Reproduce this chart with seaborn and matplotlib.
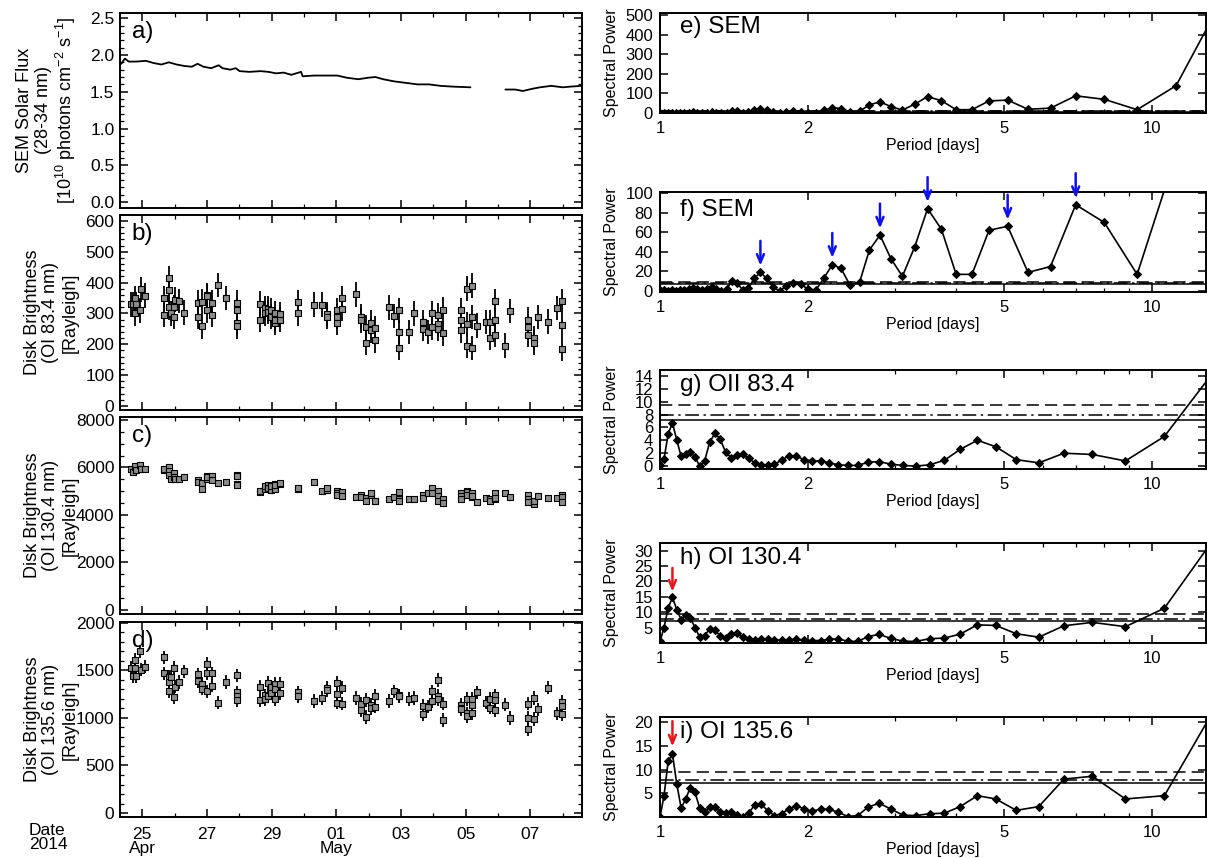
import numpy as np
import pandas as pd
import matplotlib
matplotlib.use("Agg")
import matplotlib.pyplot as plt
import seaborn as sns
from matplotlib.ticker import FixedLocator, MultipleLocator, NullFormatter, FixedFormatter

# ---------------- data ----------------
# Panel a: SEM solar flux, days since 2014-04-25 00:00
SEM_DAY_A = [-0.69, -0.65, -0.54, -0.42, -0.18, 0.11, 0.35, 0.59, 0.82, 1.06,
             1.30, 1.53, 1.71, 1.89, 2.13, 2.36, 2.48, 2.72, 2.89, 3.01,
             3.31, 3.66, 3.90, 4.14, 4.37, 4.61, 4.91, 4.96, 5.32, 5.67,
             6.03, 6.33, 6.68, 6.98, 7.21, 7.45, 7.80, 8.16, 8.51, 8.87,
             9.22, 9.58, 10.15]
SEM_FLUX_A = [1.88, 1.88, 1.95, 1.91, 1.91, 1.92, 1.89, 1.87, 1.90, 1.87,
              1.85, 1.84, 1.88, 1.84, 1.82, 1.86, 1.82, 1.80, 1.82, 1.78,
              1.77, 1.78, 1.77, 1.75, 1.76, 1.73, 1.77, 1.71, 1.72, 1.72,
              1.72, 1.69, 1.67, 1.69, 1.70, 1.67, 1.64, 1.62, 1.60, 1.60,
              1.58, 1.57, 1.56]
SEM_DAY_B = [11.23, 11.53, 11.77, 12.06, 12.30, 12.65, 13.01, 13.25, 13.60]
SEM_FLUX_B = [1.53, 1.53, 1.51, 1.54, 1.56, 1.58, 1.56, 1.57, 1.58]

# Panels b-d: disk brightness observations
OBS_DAY = [-0.36, -0.30, -0.24, -0.22, -0.18, -0.06, -0.04, 0.09,
           0.68, 0.68, 0.82, 0.82, 0.82, 0.88, 0.97, 0.97, 1.00, 1.12, 1.30,
           1.71, 1.71, 1.85, 1.85, 2.01, 2.01, 2.01, 2.16, 2.16, 2.34, 2.60, 2.92, 2.92, 2.92, 2.92,
           3.64, 3.64, 3.78, 3.78, 3.90, 3.90, 3.99, 3.99, 4.11, 4.11, 4.11, 4.26, 4.26,
           4.82, 4.82, 5.30, 5.56, 5.71, 5.71, 6.01, 6.01, 6.01, 6.18, 6.18, 6.62, 6.76, 6.76,
           6.92, 6.92, 7.06, 7.06, 7.21, 7.21,
           7.63, 7.80, 7.95, 7.95, 7.95, 8.25, 8.41, 8.68, 8.68, 8.83, 8.96, 8.96, 9.14, 9.14, 9.14,
           9.31, 9.31,
           9.87, 9.87, 9.87, 10.03, 10.03, 10.03, 10.19, 10.19, 10.19, 10.35, 10.62, 10.76, 10.76,
           10.92, 10.92, 10.92, 11.21, 11.38, 11.94, 11.94, 11.94, 12.10, 12.10, 12.24, 12.54, 12.83,
           12.99, 12.99, 12.99]
OI834 = [330, 330, 350, 300, 330, 310, 378, 357,
         350, 295, 415, 375, 320, 300, 320, 290, 345, 340, 302,
         335, 290, 338, 258, 360, 355, 310, 335, 295, 392, 350, 335, 310, 270, 258,
         280, 332, 318, 300, 315, 305, 310, 290, 270, 280, 300, 280, 297,
         337, 300, 328, 328, 298, 290, 310, 290, 270, 350, 315, 362, 290, 278, 255, 205, 270, 245, 252, 213,
         320, 292, 310, 240, 188, 240, 300, 272, 250, 240, 300, 255, 295, 265, 250, 312, 235,
         310, 280, 245, 380, 265, 195, 390, 288, 188, 260, 272, 272, 220, 340, 278, 230, 195, 308,
         280, 255, 230, 220, 205, 288, 273, 318, 340, 262, 185]
OI1304 = [5950, 5800, 6000, 6050, 5900, 6100, 5950, 5950,
          5900, 5950, 6000, 5850, 5700, 5500, 5750, 5600, 5500, 5500, 5600,
          5450, 5400, 5350, 5100, 5500, 5650, 5600, 5650, 5450, 5350, 5400, 5700, 5650, 5300, 5250,
          4950, 5000, 5100, 5200, 5250, 5150, 5050, 5200, 5300, 5100, 5250, 5300, 5350,
          5100, 5150, 5400, 5000, 5050, 5150, 5000, 4900, 4850, 4950, 4800, 4750, 4850, 4750, 4700, 4600,
          4850, 4900, 4600, 4600,
          4650, 4750, 4950, 4650, 4600, 4650, 4650, 4850, 4700, 4900, 5150, 4900, 5000, 4800, 4600, 4650, 4500,
          4900, 4800, 4650, 5000, 4950, 4850, 4900, 4750, 4800, 4550, 4700, 4650, 4600, 4900, 4650, 4700,
          4900, 4750, 4850, 4650, 4550, 4450, 4600, 4800, 4700, 4700, 4850, 4750, 4550]
OI1356 = [1530, 1440, 1530, 1610, 1440, 1700, 1510, 1540,
          1640, 1470, 1430, 1380, 1280, 1430, 1530, 1220, 1330, 1380, 1490,
          1460, 1390, 1360, 1310, 1570, 1470, 1280, 1470, 1340, 1160, 1380, 1450, 1270, 1230, 1190,
          1330, 1190, 1240, 1200, 1370, 1230, 1330, 1260, 1360, 1300, 1200, 1360, 1260,
          1270, 1230, 1180, 1210, 1320, 1290, 1370, 1250, 1160, 1320, 1150, 1210, 1150, 1080, 1190, 1010,
          1140, 1100, 1230, 1120,
          1180, 1280, 1240, 1230, 1230, 1200, 1210, 1130, 1040, 1120, 1280, 1180, 1400, 1230, 1200, 1150, 980,
          1140, 1110, 1090, 1200, 1050, 1020, 1200, 1140, 1050, 1270, 1160, 1200, 1110, 1240, 1190, 1080,
          1140, 1000, 1150, 1000, 880, 1210, 990, 1090, 1320, 1050, 1170, 1130, 1040]
ERR834 = 40
ERR1304 = 110
ERR1356 = 70

DATE_TICKS = [0, 2, 4, 6, 8, 10, 12]
DATE_LABELS = ["25\nApr", "27", "29", "01\nMay", "03", "05", "07"]

# Panels e-i: periodograms
SEM_PERIOD = [1.000, 1.018, 1.037, 1.056, 1.077, 1.098, 1.120, 1.143, 1.166, 1.191,
              1.217, 1.244, 1.273, 1.302, 1.333, 1.366, 1.400, 1.436, 1.473, 1.513,
              1.555, 1.600, 1.647, 1.697, 1.750, 1.806, 1.866, 1.931, 2.000, 2.074,
              2.153, 2.240, 2.333, 2.434, 2.545, 2.666, 2.800, 2.947, 3.110, 3.294,
              3.499, 3.733, 4.000, 4.307, 4.666, 5.090, 5.599, 6.221, 6.999, 7.999,
              9.331, 11.20, 14.00]
SEM_POWER = [1, 1, 0.5, 1, 0.5, 1, 1, 2, 3, 2,
             1, 2, 4, 2, 0.5, 2, 10, 8, 1, 3,
             13, 19, 13, 4, 0, 5, 8, 7, 2, 1,
             13, 27, 23, 6, 9, 42, 57, 33, 15, 45,
             84, 63, 17, 17, 62, 66, 19, 25, 88, 70,
             17, 140, 595]
SEM_ARROW_PERIODS = [1.600, 2.240, 2.800, 3.499, 5.090, 6.999]

OI_PERIOD = [1.000, 1.019, 1.039, 1.060, 1.082, 1.104, 1.128, 1.152, 1.178, 1.204,
             1.232, 1.262, 1.293, 1.325, 1.359, 1.395, 1.432, 1.472, 1.514, 1.559,
             1.606, 1.656, 1.709, 1.766, 1.827, 1.893, 1.963, 2.038, 2.120, 2.208,
             2.304, 2.409, 2.523, 2.650, 2.789, 2.944, 3.117, 3.312, 3.533, 3.785,
             4.077, 4.417, 4.817, 5.300, 5.889, 6.623, 7.571, 8.833, 10.60, 13.25]
OII834_POWER = [0.2, 1.1, 5.0, 6.7, 4.0, 1.5, 1.8, 2.2, 1.4, 0.0,
                0.8, 3.7, 5.1, 4.2, 2.2, 1.3, 1.7, 1.8, 1.2, 0.5,
                0.1, 0.1, 0.3, 0.9, 1.6, 1.5, 1.0, 0.8, 0.8, 0.5,
                0.2, 0.1, 0.1, 0.6, 0.7, 0.3, 0.1, 0.0, 0.2, 0.9,
                2.6, 4.0, 3.0, 1.0, 0.5, 2.0, 1.8, 0.8, 4.6, 14.3]
OI1304_POWER = [0.5, 5.0, 11.4, 14.8, 10.8, 7.6, 9.2, 8.2, 5.0, 1.9,
                2.4, 4.6, 4.2, 2.3, 1.6, 2.9, 3.2, 1.9, 1.3, 1.0,
                1.3, 1.2, 1.0, 0.9, 1.1, 1.2, 1.0, 0.8, 0.8, 1.2,
                1.3, 0.6, 0.5, 2.1, 2.8, 1.5, 0.6, 0.5, 1.4, 1.6,
                2.9, 5.9, 5.7, 3.0, 1.9, 5.6, 6.7, 5.3, 11.3, 33.0]
OI1356_POWER = [0.0, 4.5, 11.8, 13.3, 6.9, 1.9, 3.8, 6.2, 5.2, 1.9,
                1.0, 2.2, 2.2, 1.0, 0.8, 1.0, 0.5, 0.1, 0.8, 2.6,
                2.7, 1.3, 0.3, 0.7, 1.7, 2.4, 1.7, 1.2, 1.7, 1.6,
                1.0, 0.1, 0.3, 2.1, 2.9, 1.7, 0.4, 0.3, 0.7, 0.8,
                2.2, 4.5, 3.8, 1.4, 2.2, 8.0, 8.6, 3.8, 4.5, 21.9]
OI_ARROW_PERIOD = 1.060
FAP_LEVELS = [7.1, 7.9, 9.4]
PERIOD_TICKS = [1, 2, 5, 10]

# ---------------- figure ----------------
sns.set_style("ticks")
plt.rcParams['font.family'] = ['Liberation Sans', 'DejaVu Sans']
plt.rcParams['mathtext.fontset'] = 'custom'
plt.rcParams['mathtext.rm'] = 'Liberation Sans'
plt.rcParams['mathtext.it'] = 'Liberation Sans:italic'
for k in ['text.color', 'axes.labelcolor', 'xtick.color', 'ytick.color', 'axes.edgecolor']:
    plt.rcParams[k] = 'black'

W, H = 1207, 858
fig = plt.figure(figsize=(W / 100, H / 100), dpi=100)


def add_ax(x0, y0, x1, y1):
    return fig.add_axes([x0 / W, 1 - y1 / H, (x1 - x0) / W, (y1 - y0) / H])


def style(ax, ypad=4):
    ax.set_facecolor('white')
    ax.grid(False)
    for s in ax.spines.values():
        s.set_visible(True)
        s.set_linewidth(1.4)
        s.set_color('black')
    ax.tick_params(which='both', direction='in', top=True, right=True,
                   bottom=True, left=True, colors='black', labelsize=12.5)
    ax.tick_params(which='major', length=6, width=1.1)
    ax.tick_params(which='minor', length=3, width=0.9)
    ax.tick_params(axis='y', pad=ypad)
    ax.tick_params(axis='x', pad=7)


# ---- left column ----
left_boxes = [(120, 13, 582, 208), (120, 215, 582, 410), (120, 417, 582, 614), (120, 622, 582, 817)]
axL = [add_ax(*b) for b in left_boxes]

# a) SEM flux
ax = axL[0]
sem_df = pd.DataFrame({
    'day': SEM_DAY_A + SEM_DAY_B,
    'flux': SEM_FLUX_A + SEM_FLUX_B,
    'seg': [0] * len(SEM_DAY_A) + [1] * len(SEM_DAY_B),
})
sns.lineplot(data=sem_df, x='day', y='flux', units='seg', estimator=None,
             color='black', lw=1.3, sort=False, ax=ax)
ax.set_ylim(-0.08, 2.57)
ax.yaxis.set_minor_locator(MultipleLocator(0.1))
ax.set_yticks([0, 0.5, 1.0, 1.5, 2.0, 2.5])
ax.set_yticklabels(['0.0', '0.5', '1.0', '1.5', '2.0', '2.5'])
ax.set_ylabel("SEM Solar Flux\n(28-34 nm)\n[10$^{10}$ photons cm$^{-2}$ s$^{-1}$]",
              fontsize=13, linespacing=1.15)

obs_df = pd.DataFrame({'day': OBS_DAY, 'b834': OI834, 'b1304': OI1304, 'b1356': OI1356})
panels = [('b834', ERR834, (-13, 619), 100, 20, "Disk Brightness\n(OI 83.4 nm)\n[Rayleigh]"),
          ('b1304', ERR1304, (-190, 8130), 2000, 500, "Disk Brightness\n(OI 130.4 nm)\n[Rayleigh]"),
          ('b1356', ERR1356, (-42, 2010), 500, 100, "Disk Brightness\n(OI 135.6 nm)\n[Rayleigh]")]
for ax, (col, err, ylim, maj, mnr, lab) in zip(axL[1:], panels):
    ax.errorbar(obs_df['day'], obs_df[col], yerr=err, fmt='none', ecolor='black',
                elinewidth=1.3, capsize=0, zorder=2)
    sns.scatterplot(data=obs_df, x='day', y=col, marker='s', s=17, color='0.55',
                    edgecolor='black', linewidth=0.8, ax=ax, zorder=3, legend=False)
    ax.set_ylim(*ylim)
    ax.yaxis.set_major_locator(MultipleLocator(maj))
    ax.yaxis.set_minor_locator(MultipleLocator(mnr))
    ax.set_ylabel(lab, fontsize=13, linespacing=1.15)

labels_left = ['a)', 'b)', 'c)', 'd)']
for ax, t in zip(axL, labels_left):
    style(ax)
    ax.set_xlim(-0.69, 13.6)
    ax.xaxis.set_major_locator(FixedLocator(DATE_TICKS))
    ax.xaxis.set_minor_locator(MultipleLocator(1))
    ax.set_xlabel('')
    ax.yaxis.set_label_coords(-0.09, 0.5)
    ax.text(0.025, 0.905, t, transform=ax.transAxes, fontsize=17.5, va='center',
            ha='left', color='black')
for ax in axL[:3]:
    ax.xaxis.set_major_formatter(NullFormatter())
axL[3].set_xticklabels(DATE_LABELS, linespacing=0.95)
fig.text(29 / W, 1 - 823 / H, "Date\n2014", fontsize=12.5, ha='left', va='top',
         linespacing=0.95, color='black')

# ---- right column ----
right_boxes = [(660, 13, 1206, 113), (660, 192, 1206, 292), (660, 370, 1206, 469),
               (660, 543, 1206, 643), (660, 717, 1206, 817)]
axR = [add_ax(*b) for b in right_boxes]

spec = [
    (SEM_PERIOD, SEM_POWER, (0, 512), [0, 100, 200, 300, 400, 500], 'e) SEM', 0.86),
    (SEM_PERIOD, SEM_POWER, (-1, 101), [0, 20, 40, 60, 80, 100], 'f) SEM', 0.82),
    (OI_PERIOD, OII834_POWER, (-0.45, 14.9), [0, 2, 4, 6, 8, 10, 12, 14], 'g) OII 83.4', 0.85),
    (OI_PERIOD, OI1304_POWER, (0, 32.5), [5, 10, 15, 20, 25, 30], 'h) OI 130.4', 0.85),
    (OI_PERIOD, OI1356_POWER, (0, 21.1), [5, 10, 15, 20], 'i) OI 135.6', 0.85),
]
fap_styles = ['-', (0, (9, 3, 1.5, 3)), (0, (8, 4))]
for ax, (per, pw, ylim, yt, title, ty) in zip(axR, spec):
    ax.set_xscale('log')
    for lev, ls in zip(FAP_LEVELS, fap_styles):
        ax.axhline(lev, color='black', lw=1.1, ls=ls, zorder=1)
    sns.lineplot(x=per, y=pw, ax=ax, color='black', lw=1.2, marker='D',
                 markersize=4, markeredgecolor='black', sort=False, estimator=None, zorder=3)
    ax.set_xlim(1, 12.88)
    ax.set_ylim(*ylim)
    style(ax, ypad=5)
    ax.xaxis.set_major_locator(FixedLocator(PERIOD_TICKS))
    ax.xaxis.set_major_formatter(FixedFormatter([str(v) for v in PERIOD_TICKS]))
    ax.xaxis.set_minor_locator(FixedLocator([3, 4, 6, 7, 8, 9]))
    ax.xaxis.set_minor_formatter(NullFormatter())
    ax.set_yticks(yt)
    ax.yaxis.set_minor_locator(FixedLocator([]))
    ax.tick_params(axis='both', labelsize=12)
    ax.tick_params(axis='x', pad=6)
    ax.set_xlabel('Period [days]', fontsize=11.5, labelpad=1)
    ax.set_ylabel('Spectral Power', fontsize=11.5)
    ax.yaxis.set_label_coords(-0.075, 0.5)
    ax.text(0.037, ty, title, transform=ax.transAxes, fontsize=17.5, va='center',
            ha='left', color='black')

# arrows
axf = axR[1]
for p in SEM_ARROW_PERIODS:
    v = SEM_POWER[SEM_PERIOD.index(p)]
    axf.annotate('', xy=(p, v + 4), xytext=(p, v + 35), xycoords='data',
                 annotation_clip=False,
                 arrowprops=dict(arrowstyle='->,head_length=0.6,head_width=0.25',
                                 color='#1010ee', lw=1.8))
for ax, pw, top in [(axR[3], OI1304_POWER, 10.5), (axR[4], OI1356_POWER, 7.5)]:
    v = pw[OI_PERIOD.index(OI_ARROW_PERIOD)]
    ax.annotate('', xy=(OI_ARROW_PERIOD, v + 1.0), xytext=(OI_ARROW_PERIOD, v + top),
                xycoords='data', annotation_clip=False,
                arrowprops=dict(arrowstyle='->,head_length=0.6,head_width=0.25',
                                color='#e8141f', lw=1.8))

fig.savefig('out.png', dpi=100, facecolor='white')
